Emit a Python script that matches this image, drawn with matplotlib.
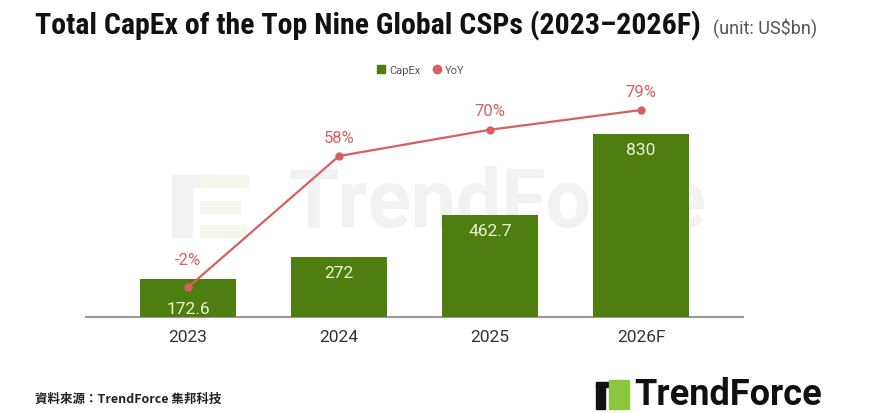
import matplotlib
matplotlib.use("Agg")
import matplotlib.pyplot as plt
from matplotlib.patches import Rectangle
from matplotlib.lines import Line2D

years = ["2023", "2024", "2025", "2026F"]
capex = [172.6, 272, 462.7, 830]
capex_labels = ["172.6", "272", "462.7", "830"]
yoy = [-2, 58, 70, 79]
yoy_labels = ["-2%", "58%", "70%", "79%"]

GREEN = "#4f7e10"
RED = "#d95f5f"
plt.rcParams['font.family'] = ['Roboto', 'DejaVu Sans']

fig = plt.figure(figsize=(8.73, 4.14), dpi=100)
fig.patch.set_facecolor("white")
ax = fig.add_axes([86/873, 1-318/414, 657/873, 228/414])
ax2 = ax.twinx()
ax.set_zorder(1)
ax2.set_zorder(2)
ax.patch.set_visible(False)
ax2.patch.set_visible(False)

x = list(range(len(years)))
ax.bar(x, capex, width=0.64, color=GREEN, zorder=3)
ax.set_xlim(-0.675, 3.675)
ax.set_ylim(0, 1034)
ax2.set_ylim(-15.5, 88.6)

# watermark (behind bars)
ax.text(0.57, 1-205/414, "TrendForce", fontsize=58, fontweight='bold',
        color="#f2f2f2", ha='center', va='center', zorder=0, transform=fig.transFigure)
wm = [((172, 238), 20, 50, "#f2f2f2"), ((172, 188), 40, 12, "#f2f2f2"),
      ((200, 238), 45, 12, "#f5f7ec"), ((200, 214), 40, 12, "#f5f7ec"),
      ((200, 188), 48, 12, "#f5f7ec")]
for (px, py), w, h, c in wm:
    ax.add_patch(Rectangle((px/873, 1-py/414), w/873, h/414, transform=fig.transFigure,
                           color=c, zorder=0, clip_on=False))

for xi, v, lab in zip(x, capex, capex_labels):
    off = -21.5 if v < 200 else -11.5
    ax.annotate(lab, (xi, v), xytext=(0, off), textcoords='offset points',
                ha='center', va='center', color="#eaf6d6", fontsize=12.5, zorder=5)

ax2.plot(x, yoy, color=RED, lw=1.6, marker='o', ms=5, zorder=4)
for xi, v, lab in zip(x, yoy, yoy_labels):
    off = 20 if v < 0 else 13.5
    ax2.annotate(lab, (xi, v), xytext=(0, off), textcoords='offset points',
                 ha='center', va='center', color=RED, fontsize=12)

for a in (ax, ax2):
    for s in ['top', 'right', 'left']:
        a.spines[s].set_visible(False)
    a.set_yticks([])
ax.spines['bottom'].set_color("#999999")
ax.spines['bottom'].set_linewidth(1.5)
ax2.spines['bottom'].set_visible(False)
ax.set_xticks(x)
ax.set_xticklabels(years, fontsize=12.5, color="#333333")
ax.tick_params(axis='x', length=0, pad=9)

# legend
handles = [Line2D([], [], marker='s', color='none', markerfacecolor=GREEN, markeredgecolor=GREEN, ms=6, label='CapEx'),
           Line2D([], [], marker='o', color='none', markerfacecolor=RED, markeredgecolor=RED, ms=6, label='YoY')]
fig.legend(handles=handles, loc='center', bbox_to_anchor=(420/873, 1-71/414), ncol=2,
           frameon=False, fontsize=8, handletextpad=0.2, columnspacing=1.0,
           handlelength=1.0, labelcolor="#555555")

# title
fig.text(35/873, 1-26/414, "Total CapEx of the Top Nine Global CSPs (2023–2026F)",
         fontsize=21.5, fontweight='bold', color="#111111", va='center', ha='left',
         family=['Roboto Condensed', 'Liberation Sans Narrow', 'Roboto'])
fig.text(713/873, 1-28/414, "(unit: US$bn)", fontsize=13, color="#555555", va='center', ha='left')

# source
fig.text(35/873, 1-399/414, "資料來源：TrendForce 集邦科技", fontsize=9, color="#222222",
         va='center', ha='left', family=['Noto Sans CJK TC', 'DejaVu Sans'], fontweight='bold')

# logo
fig.patches.append(Rectangle((596/873, 1-410/414), 9/873, 24/414, transform=fig.transFigure, color="#111111"))
fig.patches.append(Rectangle((596/873, 1-388/414), 20/873, 5/414, transform=fig.transFigure, color="#111111"))
fig.patches.append(Rectangle((609/873, 1-410/414), 20/873, 29/414, transform=fig.transFigure, color="#8cc63f"))
fig.text(634/873, 1-395/414, "TrendForce", fontsize=26, fontweight='bold', color="#111111",
         va='center', ha='left')

fig.savefig("out.png", dpi=100, facecolor="white")
